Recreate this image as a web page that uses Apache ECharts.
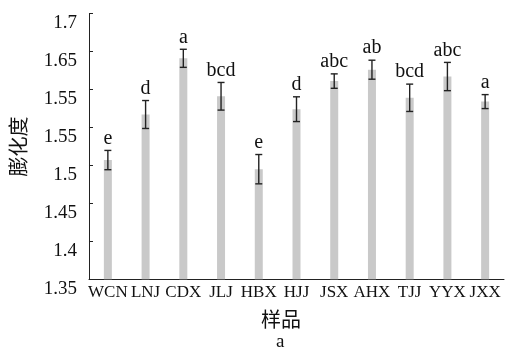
<!DOCTYPE html>
<html><head><meta charset="utf-8">
<script src="https://cdn.jsdelivr.net/npm/echarts@6/dist/echarts.min.js"></script>
<style>html,body{margin:0;padding:0;background:#fff}#c{width:509px;height:349px}</style>
</head><body><div id="c"></div>
<script>
var categories = ['WCN','LNJ','CDX','JLJ','HBX','HJJ','JSX','AHX','TJJ','YYX','JXX'];
var means = [1.507, 1.567, 1.641, 1.591, 1.495, 1.574, 1.611, 1.626, 1.589, 1.617, 1.584];
var errors = [0.0127, 0.0184, 0.0119, 0.0182, 0.0193, 0.0163, 0.0095, 0.0125, 0.018, 0.0186, 0.0092];
var letters = ['e','d','a','bcd','e','d','abc','ab','bcd','abc','a'];
var yTickLabels = ['1.35','1.4','1.45','1.5','1.55','1.55','1.65','1.7'];

var serif = 'Liberation Serif';
var cjk = 'Noto Sans CJK SC';
var chart = echarts.init(document.getElementById('c'), null, {renderer:'canvas'});
var errData = categories.map(function(c,i){return [i, means[i], errors[i]];});
chart.setOption({
  animation:false,
  backgroundColor:'#fff',
  grid:{left:83, right:5, top:13.5, bottom:69.7},
  xAxis:{
    type:'category', data:categories,
    axisLine:{lineStyle:{color:'#222', width:1}},
    axisTick:{inside:true, length:4, lineStyle:{color:'#222'}},
    axisLabel:{color:'#111', fontFamily:serif, fontSize:17, margin:5, interval:0},
    name:'样品', nameLocation:'middle', nameGap:30,
    nameTextStyle:{color:'#111', fontFamily:cjk, fontSize:20, padding:[0,31,0,0]}
  },
  yAxis:{
    type:'value', min:1.35, max:1.7, interval:0.05,
    axisLine:{show:true, lineStyle:{color:'#222', width:1}},
    axisTick:{show:true, inside:true, length:4, lineStyle:{color:'#222'}},
    splitLine:{show:false},
    axisLabel:{color:'#111', fontFamily:serif, fontSize:19, margin:12, verticalAlign:'top',
      formatter:function(v){var k=Math.round((v-1.35)/0.05);return yTickLabels[k]!==undefined?yTickLabels[k]:'';}},
    name:'膨化度', nameLocation:'middle', nameGap:61, nameRotate:90,
    nameTextStyle:{color:'#111', fontFamily:cjk, fontSize:20}
  },
  title:{text:'a', left:271, top:328, textStyle:{color:'#111', fontFamily:serif, fontSize:19, fontWeight:'normal'}},
  series:[
    {type:'bar', data:means, barWidth:8, itemStyle:{color:'#c9c9c9'}, silent:true},
    {type:'custom', data:errData, z:10,
     renderItem:function(params, api){
       var x = api.value(0), m = api.value(1), e = api.value(2);
       var top = api.coord([x, m+e]), bot = api.coord([x, m-e]);
       var cx = top[0], hw = 3.5;
       var st = {stroke:'#222', lineWidth:1.4};
       return {type:'group', children:[
         {type:'line', shape:{x1:cx,y1:top[1],x2:cx,y2:bot[1]}, style:st},
         {type:'line', shape:{x1:cx-hw,y1:top[1],x2:cx+hw,y2:top[1]}, style:st},
         {type:'line', shape:{x1:cx-hw,y1:bot[1],x2:cx+hw,y2:bot[1]}, style:st},
         {type:'text', style:{text:letters[params.dataIndex], x:cx, y:top[1]-2, textAlign:'center', textVerticalAlign:'bottom', fill:'#111', fontFamily:serif, fontSize:20}}
       ]};
     }}
  ]
});
</script></body></html>
